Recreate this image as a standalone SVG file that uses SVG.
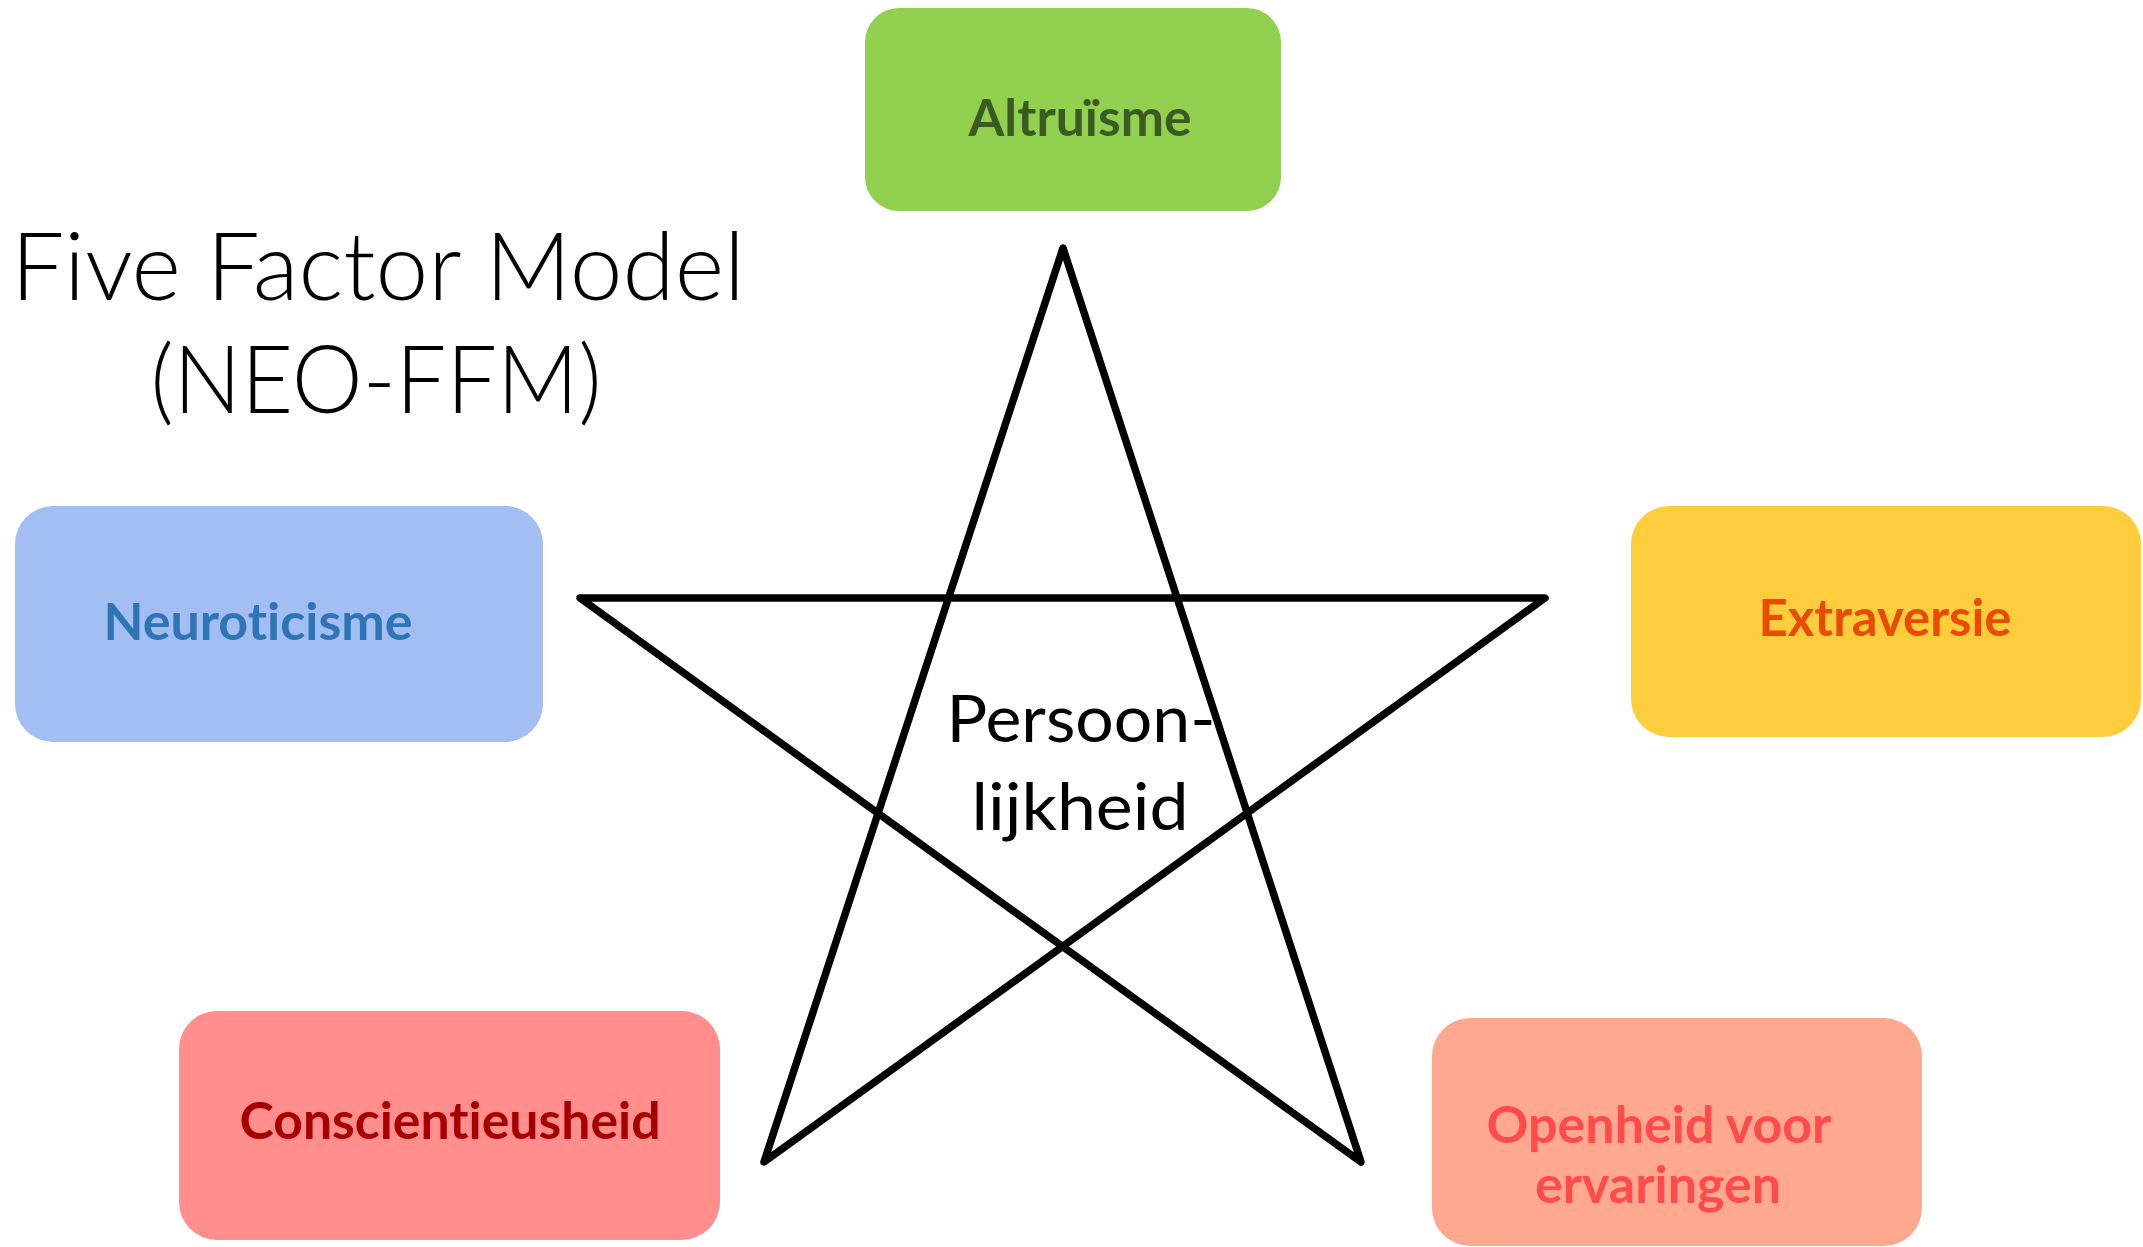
<svg xmlns="http://www.w3.org/2000/svg" width="2143" height="1247" viewBox="0 0 2143 1247">
<style>
text{font-variant-ligatures:none}
.lbl{font-family:Lato,"Open Sans","Liberation Sans",sans-serif;font-weight:700;font-size:52px;text-anchor:middle}
.title{font-family:Lato,"Open Sans","Liberation Sans",sans-serif;font-weight:300;font-size:94px;fill:#000;text-anchor:middle}
.center{font-family:Lato,"Open Sans","Liberation Sans",sans-serif;font-weight:400;font-size:66px;fill:#000;text-anchor:middle}
.star{fill:none;stroke:#000;stroke-width:7.5;stroke-linejoin:round;stroke-linecap:round}
</style>
<rect width="2143" height="1247" fill="#fff"/>
<g id="title">
<text class="title" x="378" y="300" textLength="734" lengthAdjust="spacingAndGlyphs">Five Factor Model</text>
<text class="title" x="376" y="413" textLength="451" lengthAdjust="spacingAndGlyphs">(NEO-FFM)</text>
</g>
<g id="star">
<path class="star" d="M1063,248 L764,1162 L1545,598 L580,598 L1361,1162 Z"/>
</g>
<g id="persoonlijkheid">
<text class="center" x="1081" y="742" textLength="269" lengthAdjust="spacingAndGlyphs">Persoon-</text>
<text class="center" x="1080" y="830" textLength="217" lengthAdjust="spacingAndGlyphs">lijkheid</text>
</g>
<g id="altruisme">
<rect x="865" y="8" width="416" height="203" rx="34" fill="#92D050"/>
<text class="lbl" x="1080" y="136" fill="#3C5B22" textLength="223" lengthAdjust="spacingAndGlyphs">Altruïsme</text>
</g>
<g id="neuroticisme">
<rect x="15" y="506" width="528" height="236" rx="38" fill="#A2BEF2"/>
<text class="lbl" x="258" y="640" fill="#2E75B6" textLength="309" lengthAdjust="spacingAndGlyphs">Neuroticisme</text>
</g>
<g id="extraversie">
<rect x="1631" y="506" width="510" height="231" rx="38" fill="#FECD3E"/>
<text class="lbl" x="1885" y="636" fill="#E94B02" textLength="253" lengthAdjust="spacingAndGlyphs">Extraversie</text>
</g>
<g id="conscientieusheid">
<rect x="179" y="1011" width="541" height="229" rx="38" fill="#FF8E8C"/>
<text class="lbl" x="450" y="1139" fill="#A60000" textLength="421" lengthAdjust="spacingAndGlyphs">Conscientieusheid</text>
</g>
<g id="openheid">
<rect x="1432" y="1018" width="490" height="228" rx="38" fill="#FEA88F"/>
<text class="lbl" x="1659" y="1143" fill="#FF4B4B" textLength="345" lengthAdjust="spacingAndGlyphs">Openheid voor</text>
<text class="lbl" x="1658" y="1203" fill="#FF4B4B" textLength="246" lengthAdjust="spacingAndGlyphs">ervaringen</text>
</g>
</svg>
